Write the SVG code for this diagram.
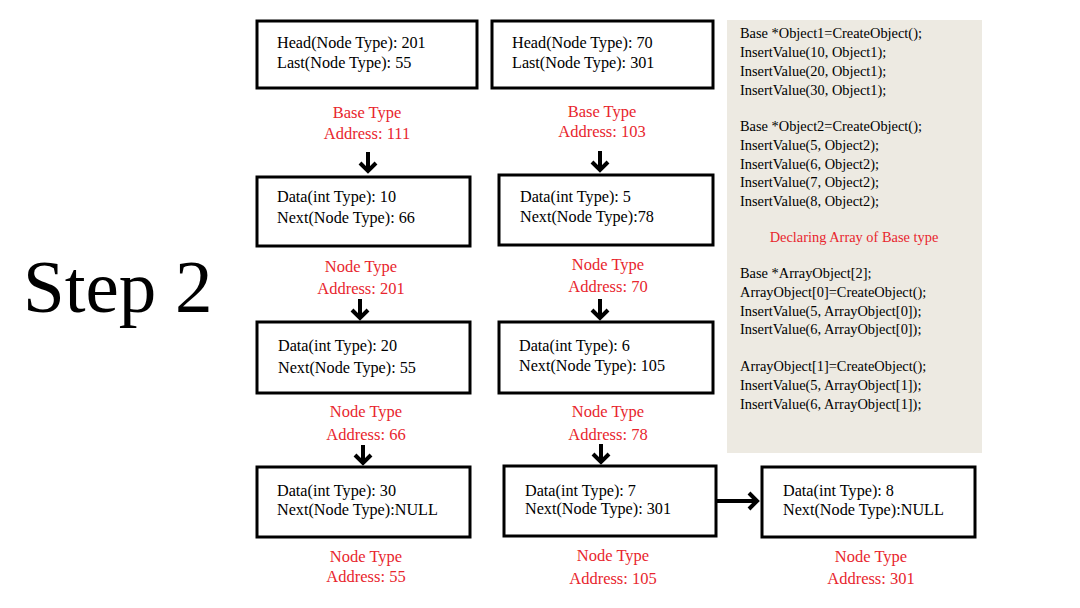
<svg xmlns="http://www.w3.org/2000/svg" width="1080" height="608" viewBox="0 0 1080 608">
<style>
  .box { fill: #fff; stroke: #000; stroke-width: 3; }
  .t { font-family: "Liberation Serif", "Times New Roman", serif; font-size: 16.2px; fill: #000; }
  .r { font-family: "Liberation Serif", "Times New Roman", serif; font-size: 16.5px; fill: #E8262E; text-anchor: middle; }
  .code { font-family: "Liberation Serif", "Times New Roman", serif; font-size: 14.4px; fill: #000; }
  .code-r { font-family: "Liberation Serif", "Times New Roman", serif; font-size: 14.4px; fill: #E8262E; text-anchor: middle; }
  .arrow { fill: none; stroke: #000; stroke-width: 4; stroke-linejoin: miter; }
  .title { font-family: "Liberation Serif", "Times New Roman", serif; font-size: 75px; fill: #000; }
</style>
<rect width="1080" height="608" fill="#fff"/>

<text class="title" x="23" y="312">Step 2</text>

<g id="code-panel">
  <rect x="727" y="20" width="255" height="433" fill="#EDEAE2"/>
  <text class="code" x="740" y="38">Base *Object1=CreateObject();</text>
  <text class="code" x="740" y="57">InsertValue(10, Object1);</text>
  <text class="code" x="740" y="76">InsertValue(20, Object1);</text>
  <text class="code" x="740" y="95">InsertValue(30, Object1);</text>
  <text class="code" x="740" y="131">Base *Object2=CreateObject();</text>
  <text class="code" x="740" y="150">InsertValue(5, Object2);</text>
  <text class="code" x="740" y="169">InsertValue(6, Object2);</text>
  <text class="code" x="740" y="187">InsertValue(7, Object2);</text>
  <text class="code" x="740" y="206">InsertValue(8, Object2);</text>
  <text class="code-r" x="854" y="242">Declaring Array of Base type</text>
  <text class="code" x="740" y="278">Base *ArrayObject[2];</text>
  <text class="code" x="740" y="297">ArrayObject[0]=CreateObject();</text>
  <text class="code" x="740" y="316">InsertValue(5, ArrayObject[0]);</text>
  <text class="code" x="740" y="334">InsertValue(6, ArrayObject[0]);</text>
  <text class="code" x="740" y="371">ArrayObject[1]=CreateObject();</text>
  <text class="code" x="740" y="390">InsertValue(5, ArrayObject[1]);</text>
  <text class="code" x="740" y="409">InsertValue(6, ArrayObject[1]);</text>
</g>

<g id="connectors">
  <path class="arrow" d="M368,152 V171 M360,163 L368,171 L376,163"/>
  <path class="arrow" d="M600,151 V170 M592,162 L600,170 L608,162"/>
  <path class="arrow" d="M360,299 V318 M352,310 L360,318 L368,310"/>
  <path class="arrow" d="M600,299 V318 M592,310 L600,318 L608,310"/>
  <path class="arrow" d="M363,445 V463 M355,455 L363,463 L371,455"/>
  <path class="arrow" d="M601,444 V462 M593,454 L601,462 L609,454"/>
  <path class="arrow" d="M717,501 H757 M749,493 L757,501 L749,509"/>
</g>

<g id="obj1-base">
  <rect class="box" x="257" y="21" width="220" height="67"/>
  <text class="t" x="277" y="48">Head(Node Type): 201</text>
  <text class="t" x="277" y="68">Last(Node Type): 55</text>
  <text class="r" x="367" y="118">Base Type</text>
  <text class="r" x="367" y="139">Address: 111</text>
</g>

<g id="obj2-base">
  <rect class="box" x="492" y="21" width="221" height="67"/>
  <text class="t" x="512" y="48">Head(Node Type): 70</text>
  <text class="t" x="512" y="68">Last(Node Type): 301</text>
  <text class="r" x="602" y="117">Base Type</text>
  <text class="r" x="602" y="137">Address: 103</text>
</g>

<g id="node-201">
  <rect class="box" x="257" y="177" width="213" height="69"/>
  <text class="t" x="277" y="202">Data(int Type): 10</text>
  <text class="t" x="277" y="223">Next(Node Type): 66</text>
  <text class="r" x="361" y="272">Node Type</text>
  <text class="r" x="361" y="294">Address: 201</text>
</g>

<g id="node-70">
  <rect class="box" x="499" y="175" width="214" height="70"/>
  <text class="t" x="520" y="202">Data(int Type): 5</text>
  <text class="t" x="520" y="222">Next(Node Type):78</text>
  <text class="r" x="608" y="270">Node Type</text>
  <text class="r" x="608" y="292">Address: 70</text>
</g>

<g id="node-66">
  <rect class="box" x="257" y="322" width="213" height="71"/>
  <text class="t" x="278" y="351">Data(int Type): 20</text>
  <text class="t" x="278" y="373">Next(Node Type): 55</text>
  <text class="r" x="366" y="417">Node Type</text>
  <text class="r" x="366" y="440">Address: 66</text>
</g>

<g id="node-78">
  <rect class="box" x="499" y="322" width="214" height="71"/>
  <text class="t" x="519" y="351">Data(int Type): 6</text>
  <text class="t" x="519" y="371">Next(Node Type): 105</text>
  <text class="r" x="608" y="417">Node Type</text>
  <text class="r" x="608" y="440">Address: 78</text>
</g>

<g id="node-55">
  <rect class="box" x="257" y="467" width="213" height="70"/>
  <text class="t" x="277" y="496">Data(int Type): 30</text>
  <text class="t" x="277" y="515">Next(Node Type):NULL</text>
  <text class="r" x="366" y="562">Node Type</text>
  <text class="r" x="366" y="582">Address: 55</text>
</g>

<g id="node-105">
  <rect class="box" x="504" y="466" width="212" height="70"/>
  <text class="t" x="525" y="496">Data(int Type): 7</text>
  <text class="t" x="525" y="514">Next(Node Type): 301</text>
  <text class="r" x="613" y="561">Node Type</text>
  <text class="r" x="613" y="584">Address: 105</text>
</g>

<g id="node-301">
  <rect class="box" x="762" y="467" width="213" height="70"/>
  <text class="t" x="783" y="496">Data(int Type): 8</text>
  <text class="t" x="783" y="515">Next(Node Type):NULL</text>
  <text class="r" x="871" y="562">Node Type</text>
  <text class="r" x="871" y="584">Address: 301</text>
</g>
</svg>
